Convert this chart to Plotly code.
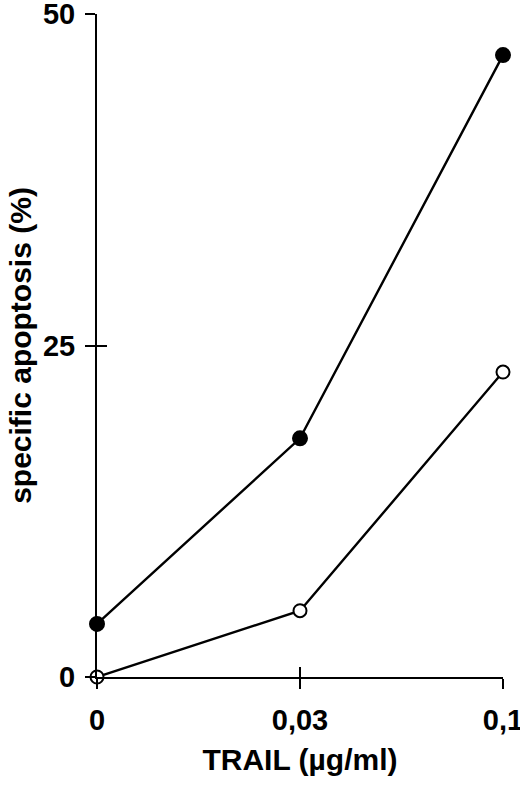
import plotly.graph_objects as go

trail_doses = ["0", "0,03", "0,1"]
apoptosis_filled = [4.0, 18.0, 46.9]
apoptosis_open = [0.0, 5.0, 23.0]
y_ticks = [0, 25, 50]

FONT = "Liberation Sans, Arial, sans-serif"

fig = go.Figure()
fig.add_trace(go.Scatter(
    x=trail_doses, y=apoptosis_filled,
    mode="lines+markers",
    line=dict(color="black", width=2.4),
    marker=dict(symbol="circle", size=14, color="black", line=dict(color="black", width=2)),
    cliponaxis=False, showlegend=False,
))
fig.add_trace(go.Scatter(
    x=trail_doses, y=apoptosis_open,
    mode="lines+markers",
    line=dict(color="black", width=2.4),
    marker=dict(symbol="circle", size=13, color="white", line=dict(color="black", width=2)),
    cliponaxis=False, showlegend=False,
))

axis_common = dict(showgrid=False, zeroline=False, tickcolor="black", tickwidth=2,
                   ticklen=10, automargin=False)
tick_font = dict(family=FONT, size=29, color="black", weight="bold")

fig.update_layout(
    width=520, height=788,
    paper_bgcolor="white", plot_bgcolor="white",
    font=dict(family=FONT, color="black", size=28),
    margin=dict(l=97, r=17, t=14, b=111),
    xaxis=dict(
        **axis_common,
        type="category", range=[0, 2],
        showline=True, linecolor="black", linewidth=2,
        ticks="outside", ticklabelstandoff=6, ticklabeloverflow="allow",
        tickfont=tick_font,
        title=dict(text="<b>TRAIL (µg/ml)</b>", font=dict(family=FONT, size=30), standoff=14),
    ),
    xaxis2=dict(
        **axis_common,
        type="category", range=[0, 2], overlaying="x",
        ticks="inside", showticklabels=False, showline=False,
        tickvals=trail_doses,
    ),
    yaxis=dict(
        **axis_common,
        range=[0, 50], tickvals=y_ticks,
        showline=True, linecolor="black", linewidth=2,
        ticks="outside", ticklabelstandoff=4, ticklabeloverflow="allow",
        tickfont=tick_font,
        title=dict(text="<b>specific apoptosis (%)</b>", font=dict(family=FONT, size=30), standoff=2),
    ),
    yaxis2=dict(
        **axis_common,
        range=[0, 50], tickvals=y_ticks, overlaying="y",
        ticks="inside", showticklabels=False, showline=False,
    ),
)

# invisible trace to activate the overlay axes carrying the inner tick halves
fig.add_trace(go.Scatter(x=trail_doses, y=[None] * 3, xaxis="x2", yaxis="y2",
                         mode="markers", showlegend=False, hoverinfo="skip"))

fig.write_html("out.html", config=dict(displayModeBar=False),
               post_script="document.body.style.margin='0';")
